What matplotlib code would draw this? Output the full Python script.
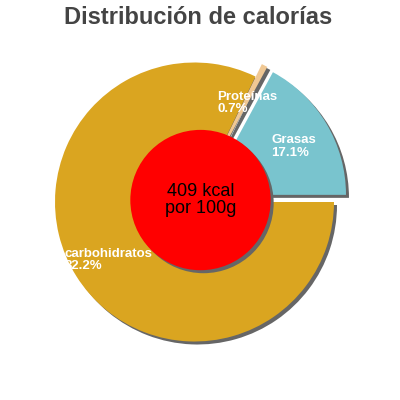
import matplotlib.pyplot as plt
import matplotlib.transforms as mtransforms
import numpy as np
from matplotlib.patches import Circle, Wedge

plt.rcParams['font.family'] = ['Liberation Sans', 'DejaVu Sans']

labels = ['Grasas', 'Proteínas', 'carbohidratos']
values = [17.1, 0.7, 82.2]
colors = ['#79c4ce', '#f0c894', '#daa520']
explode = [0.1, 0.1, 0.0]
energy = '409 kcal\npor 100g'

fig = plt.figure(figsize=(4, 4), dpi=100)
ax = fig.add_axes([0, 0, 1, 1])

wedges, _ = ax.pie(values, colors=colors, explode=explode, startangle=0,
                   counterclock=True, radius=1.0,
                   wedgeprops=dict(linewidth=0, zorder=2))

# gray drop shadow, 3 px right and down
shift = ax.transData + mtransforms.ScaledTranslation(0.03, -0.03, fig.dpi_scale_trans)
for w in wedges:
    ax.add_patch(Wedge(w.center, w.r, w.theta1, w.theta2, facecolor='#666666',
                       edgecolor='none', transform=shift, zorder=1))

# labels inside the slices, nudged a few pixels down
nudge = ax.transData + mtransforms.ScaledTranslation(0, -0.04, fig.dpi_scale_trans)
for w, lab, val in zip(wedges, labels, values):
    mid = np.deg2rad((w.theta1 + w.theta2) / 2)
    cx, cy = w.center
    r = 0.73
    ax.text(cx + r * np.cos(mid), cy + r * np.sin(mid), f'{lab}\n{val}%',
            color='white', fontsize=9.5, fontweight='bold', ha='center', va='center',
            multialignment='left', linespacing=1.1, zorder=8, transform=nudge)

centre = (0.043, 0.014)
ax.add_patch(Circle(centre, 0.503, facecolor='#666666', edgecolor='none',
                    transform=shift, zorder=5))
ax.add_patch(Circle(centre, 0.503, facecolor='#ff0000', edgecolor='none', zorder=6))
ax.text(centre[0], centre[1], energy, ha='center', va='center', fontsize=13,
        color='black', linespacing=1.0, zorder=7)

ax.set_aspect('equal')
ax.set_xlim(-194.5 / 139.5, 205.5 / 139.5)
ax.set_ylim(-198 / 139.5, 202 / 139.5)
ax.axis('off')

fig.text(0.495, 0.957, 'Distribución de calorías', ha='center', va='center',
         fontsize=17, fontweight='bold', color='#444444')

fig.savefig('out.png', dpi=100)
